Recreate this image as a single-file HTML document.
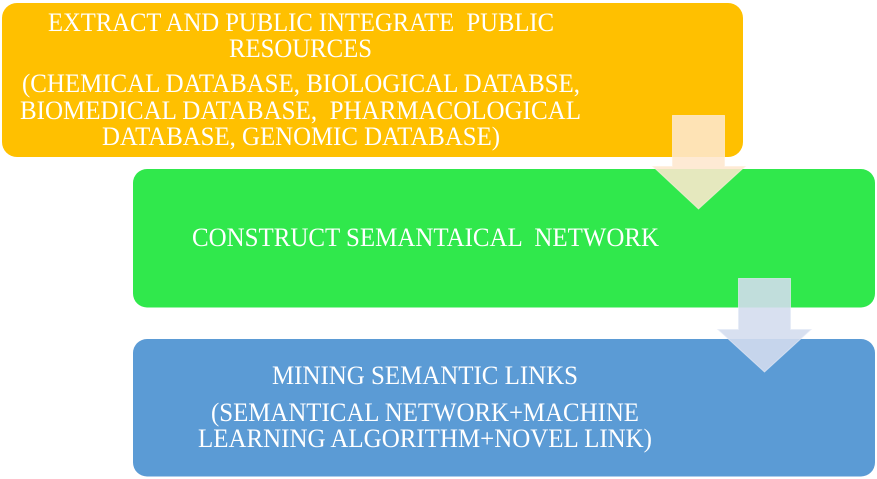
<!DOCTYPE html>
<html>
<head>
<meta charset="utf-8">
<style>
html,body{margin:0;padding:0;background:#fff;width:877px;height:479px;overflow:hidden}
svg{display:block}
text{font-family:"Liberation Serif",serif;font-size:26px;fill:#fff;white-space:pre}
</style>
</head>
<body>
<svg width="877" height="479" viewBox="0 0 877 479" xmlns="http://www.w3.org/2000/svg">
<rect x="2" y="3" width="741" height="154" rx="15" fill="#ffc000"/>
<rect x="133" y="169" width="742" height="138.500" rx="14" fill="#30e84c"/>
<rect x="133" y="339" width="742" height="137.500" rx="14" fill="#5b9bd5"/>

<text x="48" y="31" textLength="506" lengthAdjust="spacingAndGlyphs" xml:space="preserve">EXTRACT AND PUBLIC INTEGRATE  PUBLIC</text>
<text x="229" y="57" textLength="143" lengthAdjust="spacingAndGlyphs">RESOURCES</text>
<text x="22" y="92" textLength="558" lengthAdjust="spacingAndGlyphs">(CHEMICAL DATABASE, BIOLOGICAL DATABSE,</text>
<text x="20" y="119" textLength="561" lengthAdjust="spacingAndGlyphs" xml:space="preserve">BIOMEDICAL DATABASE,  PHARMACOLOGICAL</text>
<text x="102" y="145" textLength="398" lengthAdjust="spacingAndGlyphs">DATABASE, GENOMIC DATABASE)</text>

<text x="192" y="246" textLength="467" lengthAdjust="spacingAndGlyphs" xml:space="preserve">CONSTRUCT SEMANTAICAL  NETWORK</text>

<text x="272" y="384" textLength="306" lengthAdjust="spacingAndGlyphs">MINING SEMANTIC LINKS</text>
<text x="211" y="421" textLength="428" lengthAdjust="spacingAndGlyphs">(SEMANTICAL NETWORK+MACHINE</text>
<text x="198" y="447" textLength="454" lengthAdjust="spacingAndGlyphs">LEARNING ALGORITHM+NOVEL LINK)</text>

<path d="M672.5 115.500H724.500V166.500H745L698.500 209L653 166.500H672.500Z" fill="#fee7ce" fill-opacity=".88" stroke="#fdeedd" stroke-opacity=".7" stroke-width="1"/>
<path d="M738.500 278.500H790.500V329.500H811L764.500 372L718 329.500H738.500Z" fill="#d3dcee" fill-opacity=".89" stroke="#e4eaf6" stroke-opacity=".7" stroke-width="1"/>
</svg>
</body>
</html>
